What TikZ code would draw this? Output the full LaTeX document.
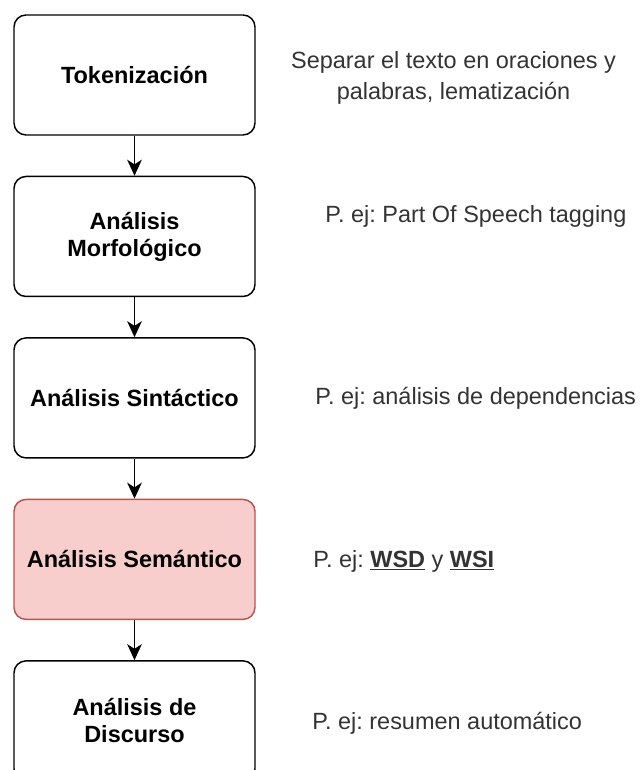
\documentclass[tikz,border=0pt]{standalone}
\usepackage{fontspec}
\setmainfont{Liberation Sans}
\usetikzlibrary{positioning,arrows.meta}

\definecolor{semfill}{HTML}{F8CECC}
\definecolor{semdraw}{HTML}{B85450}

\begin{document}
\frenchspacing
\begin{tikzpicture}[
    node distance=30pt and 40pt,
    stage/.style={rectangle, rounded corners=9pt, draw, line width=1.1pt, minimum width=180.75pt, minimum height=90pt, align=center, font=\bfseries\fontsize{17.6}{20.3}\selectfont},
    note/.style={align=center, text=black!80, font=\fontsize{17.6}{23.2}\selectfont},
    arrow/.style={-{Stealth[length=12pt, width=11pt, inset=3.5pt]}, line width=1.1pt},
]

% Frame
\useasboundingbox (-100.875pt,56.25pt) rectangle (379.875pt,-521.25pt);

% Stages
\node[stage] (tok) {Tokenización};
\node[stage, below=of tok] (morf) {Análisis\\Morfológico};
\node[stage, below=of morf] (sint) {Análisis Sintáctico};
\node[stage, fill=semfill, draw=semdraw, below=of sint] (sem) {Análisis Semántico};
\node[stage, below=of sem] (disc) {Análisis de\\Discurso};

% Flow
\draw[arrow] (tok) -- (morf);
\draw[arrow] (morf) -- (sint);
\draw[arrow] (sint) -- (sem);
\draw[arrow] (sem) -- (disc);

% Examples
\node[note, right=23pt of tok, yshift=-1.9pt] (tokNote) {Separar el texto en oraciones y\\palabras, lematización};
\node[note, right=48.75pt of morf, yshift=15pt] (morfNote) {P. ej: Part Of Speech tagging};
\node[note, right=41.25pt of sint] (sintNote) {P. ej: análisis de dependencias};
\node[note, right=39.75pt of sem, yshift=-1.5pt] (semNote) {P. ej: \underline{\textbf{WSD}} y \underline{\textbf{WSI}}};
\node[note, right=39pt of disc, yshift=-1.5pt] (discNote) {P. ej: resumen automático};

\end{tikzpicture}
\end{document}
